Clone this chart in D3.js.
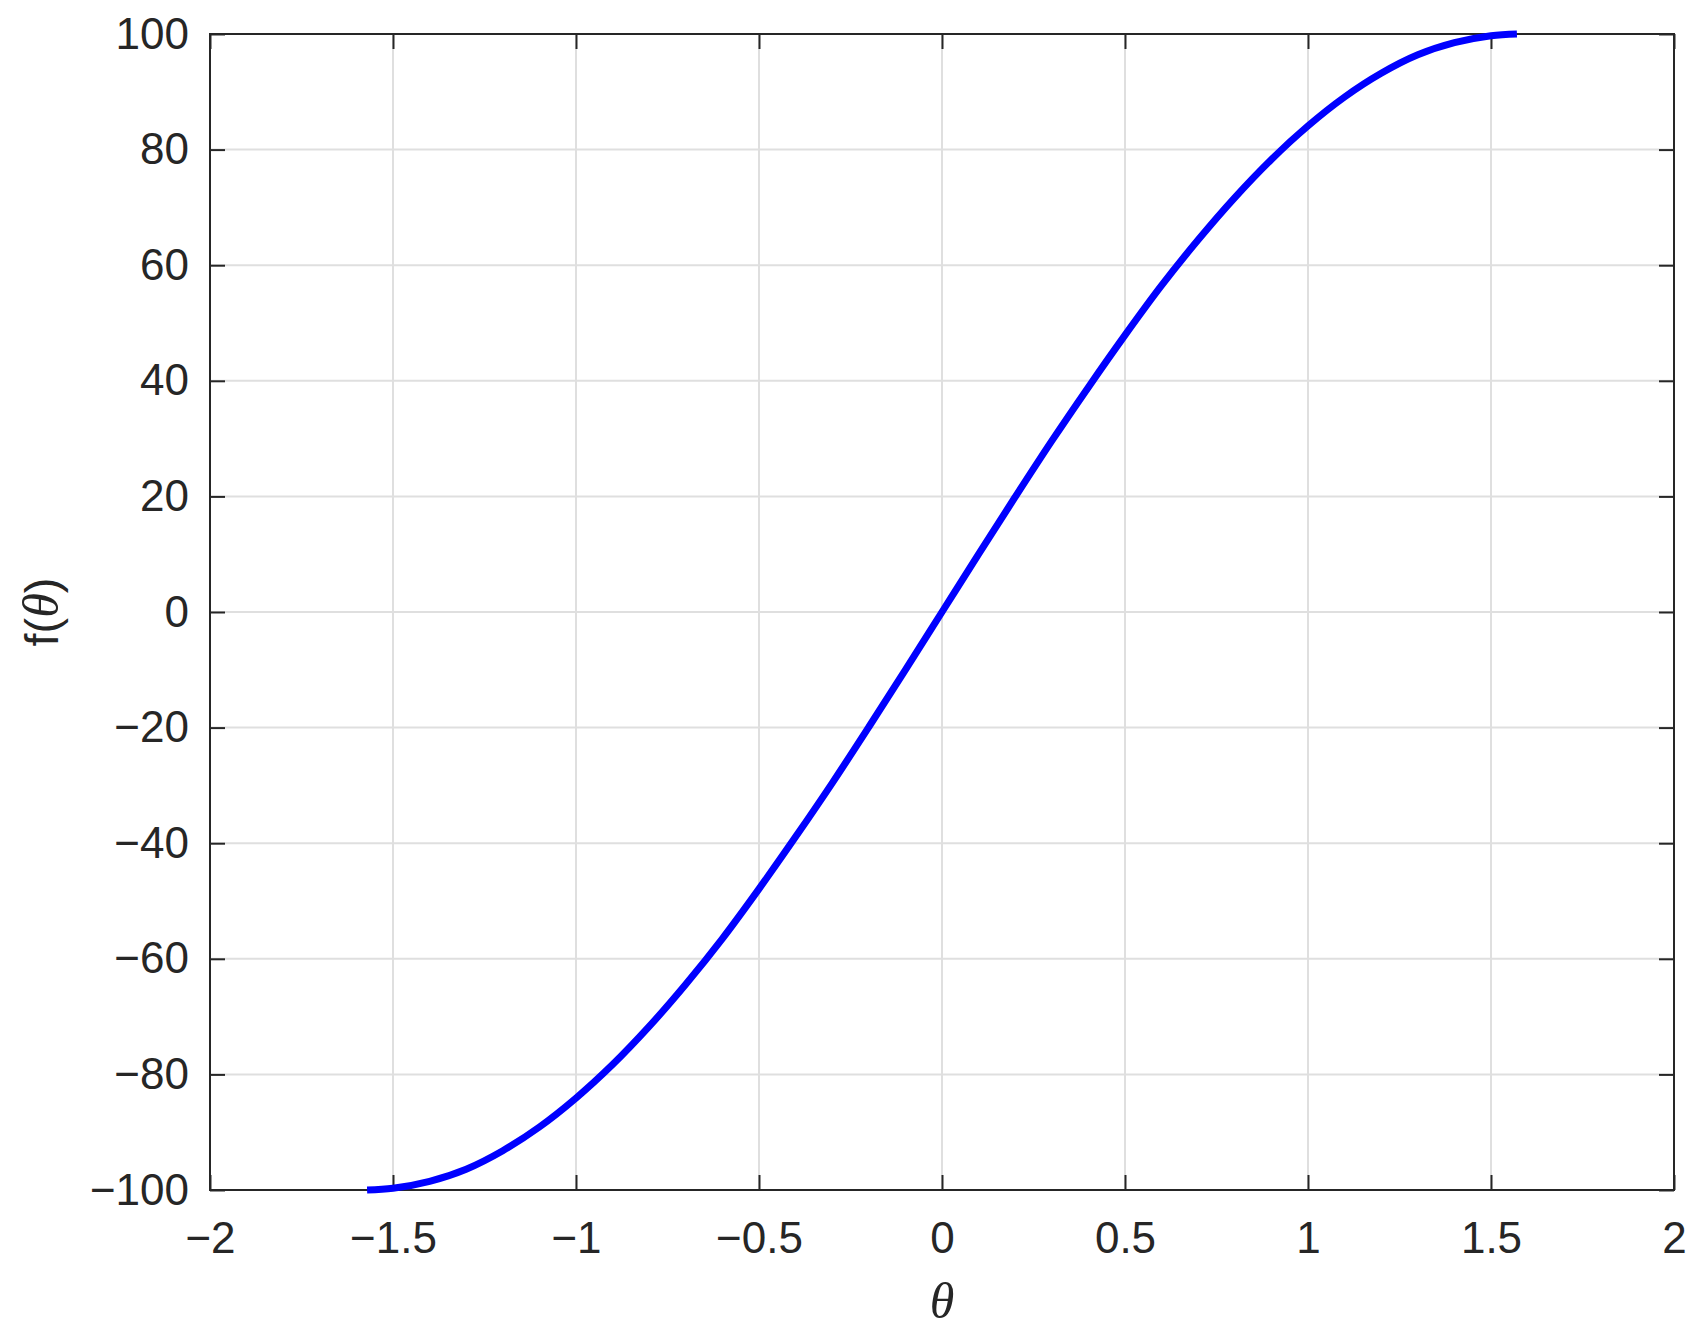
<!DOCTYPE html>
<html>
<head>
<meta charset="utf-8">
<style>
  body { margin: 0; background: #fff; }
  svg text { font-family: "Liberation Sans", Arial, sans-serif; fill: #262626; }
  .grid line { stroke: #dfdfdf; stroke-width: 2; }
</style>
<script src="https://cdn.jsdelivr.net/npm/d3@7/dist/d3.min.js"></script>
</head>
<body>
<div id="chart"></div>
<script>
// values
var thetaVals = [-1.5708, -1.5, -1.4, -1.3, -1.2, -1.1, -1.0, -0.9, -0.8, -0.7, -0.6, -0.5, -0.4, -0.3, -0.2, -0.1,
                 0, 0.1, 0.2, 0.3, 0.4, 0.5, 0.6, 0.7, 0.8, 0.9, 1.0, 1.1, 1.2, 1.3, 1.4, 1.5, 1.5708];
var fVals = [-100, -99.7, -98.5, -96.4, -93.2, -89.1, -84.1, -78.3, -71.7, -64.4, -56.5, -47.9, -38.9, -29.6, -19.9, -10.0,
             0, 10.0, 19.9, 29.6, 38.9, 47.9, 56.5, 64.4, 71.7, 78.3, 84.1, 89.1, 93.2, 96.4, 98.5, 99.7, 100];
var xTicks = [-2, -1.5, -1, -0.5, 0, 0.5, 1, 1.5, 2];
var yTicks = [-100, -80, -60, -40, -20, 0, 20, 40, 60, 80, 100];

var W = 1706, H = 1339;
var m = {left: 210, right: 32, top: 34, bottom: 149};
var iw = W - m.left - m.right, ih = H - m.top - m.bottom;

var svg = d3.select("#chart").append("svg").attr("width", W).attr("height", H);
var g = svg.append("g").attr("transform", "translate(" + m.left + "," + m.top + ")");

var x = d3.scaleLinear().domain([-2, 2]).range([0, iw]);
var y = d3.scaleLinear().domain([-100, 100]).range([ih, 0]);

function fmt(d) { return (d < 0 ? "\u2212" : "") + Math.abs(d); }

// grid
var grid = g.append("g").attr("class", "grid");
grid.selectAll(".gx").data(xTicks.slice(1, -1)).enter().append("line")
  .attr("x1", function(d){ return x(d); }).attr("x2", function(d){ return x(d); })
  .attr("y1", 0).attr("y2", ih);
grid.selectAll(".gy").data(yTicks.slice(1, -1)).enter().append("line")
  .attr("y1", function(d){ return y(d); }).attr("y2", function(d){ return y(d); })
  .attr("x1", 0).attr("x2", iw);

// axes (ticks inside, on all four sides)
function styleAxis(sel) {
  sel.select(".domain").remove();
  sel.selectAll(".tick line").attr("stroke", "#262626").attr("stroke-width", 2);
  sel.selectAll(".tick text").attr("font-size", 44).attr("fill", "#262626");
}
var tl = 15;
g.append("g").attr("transform", "translate(0," + ih + ")")
  .call(d3.axisBottom(x).tickValues(xTicks).tickFormat(fmt).tickSizeInner(-tl).tickPadding(32))
  .call(styleAxis)
  .selectAll(".tick text").attr("dy", "0.71em");
g.append("g")
  .call(d3.axisTop(x).tickValues(xTicks).tickFormat("").tickSizeInner(-tl))
  .call(styleAxis);
g.append("g")
  .call(d3.axisLeft(y).tickValues(yTicks).tickFormat(fmt).tickSizeInner(-tl).tickPadding(21))
  .call(styleAxis);
g.append("g").attr("transform", "translate(" + iw + ",0)")
  .call(d3.axisRight(y).tickValues(yTicks).tickFormat("").tickSizeInner(-tl))
  .call(styleAxis);

// box
g.append("rect").attr("width", iw).attr("height", ih)
  .attr("fill", "none").attr("stroke", "#262626").attr("stroke-width", 2);

// curve
var pts = thetaVals.map(function(t, i){ return [t, fVals[i]]; });
g.append("path").datum(pts)
  .attr("fill", "none").attr("stroke", "#0000ff").attr("stroke-width", 7)
  .attr("d", d3.line().x(function(d){ return x(d[0]); }).y(function(d){ return y(d[1]); })
    .curve(d3.curveCatmullRom));

// axis labels
svg.append("text")
  .attr("x", m.left + iw / 2).attr("y", 1318)
  .attr("text-anchor", "middle")
  .style("font-family", "'Liberation Serif', 'DejaVu Serif', serif")
  .style("font-style", "italic").attr("font-size", 50)
  .text("\u03B8");

var yl = svg.append("text")
  .attr("transform", "translate(58," + (m.top + ih / 2) + ") rotate(-90)")
  .attr("text-anchor", "middle").attr("font-size", 47);
yl.append("tspan").text("f(");
yl.append("tspan").style("font-family", "'Liberation Serif', 'DejaVu Serif', serif")
  .style("font-style", "italic").attr("font-size", 50).text("\u03B8");
yl.append("tspan").text(")");
</script>
</body>
</html>
